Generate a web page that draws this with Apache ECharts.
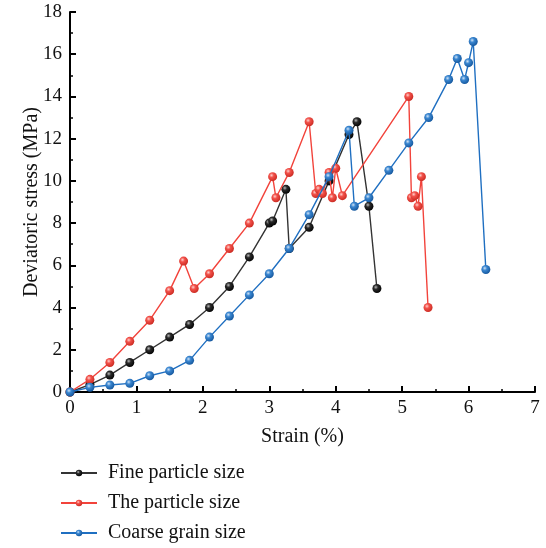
<!DOCTYPE html>
<html>
<head>
<meta charset="utf-8">
<script src="https://cdn.jsdelivr.net/npm/echarts@6/dist/echarts.min.js"></script>
<style>html,body{margin:0;padding:0;background:#fff;}#c{width:546px;height:548px;}</style>
</head>
<body>
<div id="c"></div>
<script>
const seriesNames = ['Fine particle size', 'The particle size', 'Coarse grain size'];
const fineX = [0, 0.3, 0.6, 0.9, 1.2, 1.5, 1.8, 2.1, 2.4, 2.7, 3.0, 3.05, 3.25, 3.3, 3.6, 3.9, 4.2, 4.32, 4.5, 4.62];
const fineY = [0, 0.35, 0.8, 1.4, 2.0, 2.6, 3.2, 4.0, 5.0, 6.4, 8.0, 8.1, 9.6, 6.8, 7.8, 10.0, 12.2, 12.8, 8.8, 4.9];
const midX = [0, 0.3, 0.6, 0.9, 1.2, 1.5, 1.71, 1.87, 2.1, 2.4, 2.7, 3.05, 3.1, 3.3, 3.6, 3.7, 3.75, 3.8, 3.9, 3.95, 4.0, 4.1, 5.1, 5.14, 5.19, 5.24, 5.29, 5.39];
const midY = [0, 0.6, 1.4, 2.4, 3.4, 4.8, 6.2, 4.9, 5.6, 6.8, 8.0, 10.2, 9.2, 10.4, 12.8, 9.4, 9.6, 9.4, 10.4, 9.2, 10.6, 9.3, 14.0, 9.2, 9.3, 8.8, 10.2, 4.0];
const coarseX = [0, 0.3, 0.6, 0.9, 1.2, 1.5, 1.8, 2.1, 2.4, 2.7, 3.0, 3.3, 3.6, 3.9, 4.2, 4.28, 4.5, 4.8, 5.1, 5.4, 5.7, 5.83, 5.94, 6.0, 6.07, 6.26];
const coarseY = [0, 0.22, 0.33, 0.41, 0.77, 1.0, 1.5, 2.6, 3.6, 4.6, 5.6, 6.8, 8.4, 10.2, 12.4, 8.8, 9.2, 10.5, 11.8, 13.0, 14.8, 15.8, 14.8, 15.6, 16.6, 5.8];

const xTicks = [0, 1, 2, 3, 4, 5, 6, 7];
const yTicks = [0, 2, 4, 6, 8, 10, 12, 14, 16, 18];

const FONT = '"Liberation Serif", "DejaVu Serif", serif';

function pairs(xs, ys) { return xs.map((x, i) => [x, ys[i]]); }
function ball(light, base, dark) {
  return new echarts.graphic.RadialGradient(0.38, 0.35, 0.7, [
    { offset: 0, color: light },
    { offset: 0.35, color: base },
    { offset: 1, color: dark }
  ]);
}
const cfg = [
  { line: '#333333', fill: ball('#bbbbbb', '#2a2a2a', '#000000'), data: pairs(fineX, fineY) },
  { line: '#f2433b', fill: ball('#ffd0cc', '#f2514a', '#c8281f'), data: pairs(midX, midY) },
  { line: '#1f6fc1', fill: ball('#cfe3f7', '#3a86d0', '#12549a'), data: pairs(coarseX, coarseY) }
];

const chart = echarts.init(document.getElementById('c'), null, { renderer: 'canvas' });
chart.setOption({
  backgroundColor: '#ffffff',
  animation: false,
  grid: { left: 70, right: 11, top: 12, bottom: 156, containLabel: false },
  legend: {
    orient: 'vertical',
    left: 60,
    top: 463,
    padding: 0,
    itemWidth: 36,
    itemHeight: 8,
    itemGap: 10,
    textStyle: { fontFamily: FONT, fontSize: 20, color: '#111', padding: [0, 0, 0, 6] },
    data: seriesNames
  },
  xAxis: {
    type: 'value',
    min: xTicks[0], max: xTicks[xTicks.length - 1], interval: 1,
    name: 'Strain (%)', nameLocation: 'middle', nameGap: 35,
    nameTextStyle: { fontFamily: FONT, fontSize: 20, color: '#111' },
    axisLine: { show: true, onZero: false, lineStyle: { color: '#000', width: 2 } },
    axisTick: { show: true, inside: true, length: 6, lineStyle: { color: '#000', width: 2 } },
    minorTick: { show: true, splitNumber: 2, length: 3, lineStyle: { color: '#000', width: 1.5 } },
    splitLine: { show: false },
    axisLabel: { fontFamily: FONT, fontSize: 19, color: '#111', margin: 7 }
  },
  yAxis: {
    type: 'value',
    min: yTicks[0], max: yTicks[yTicks.length - 1], interval: 2,
    name: 'Deviatoric stress (MPa)', nameLocation: 'middle', nameGap: 28,
    nameMoveOverlap: false,
    nameTextStyle: { fontFamily: FONT, fontSize: 20, color: '#111' },
    axisLine: { show: true, onZero: false, lineStyle: { color: '#000', width: 2 } },
    axisTick: { show: true, inside: true, length: 6, lineStyle: { color: '#000', width: 2 } },
    minorTick: { show: true, splitNumber: 2, length: 3, lineStyle: { color: '#000', width: 1.5 } },
    splitLine: { show: false },
    axisLabel: { fontFamily: FONT, fontSize: 19, color: '#111', margin: 8 }
  },
  series: cfg.map((c, i) => ({
    name: seriesNames[i],
    type: 'line',
    data: c.data,
    symbol: 'circle',
    symbolSize: 9,
    showAllSymbol: true,
    lineStyle: { color: c.line, width: 1.4 },
    itemStyle: { color: c.fill, borderWidth: 0 },
    z: 3 + i
  }))
});
</script>
</body>
</html>
